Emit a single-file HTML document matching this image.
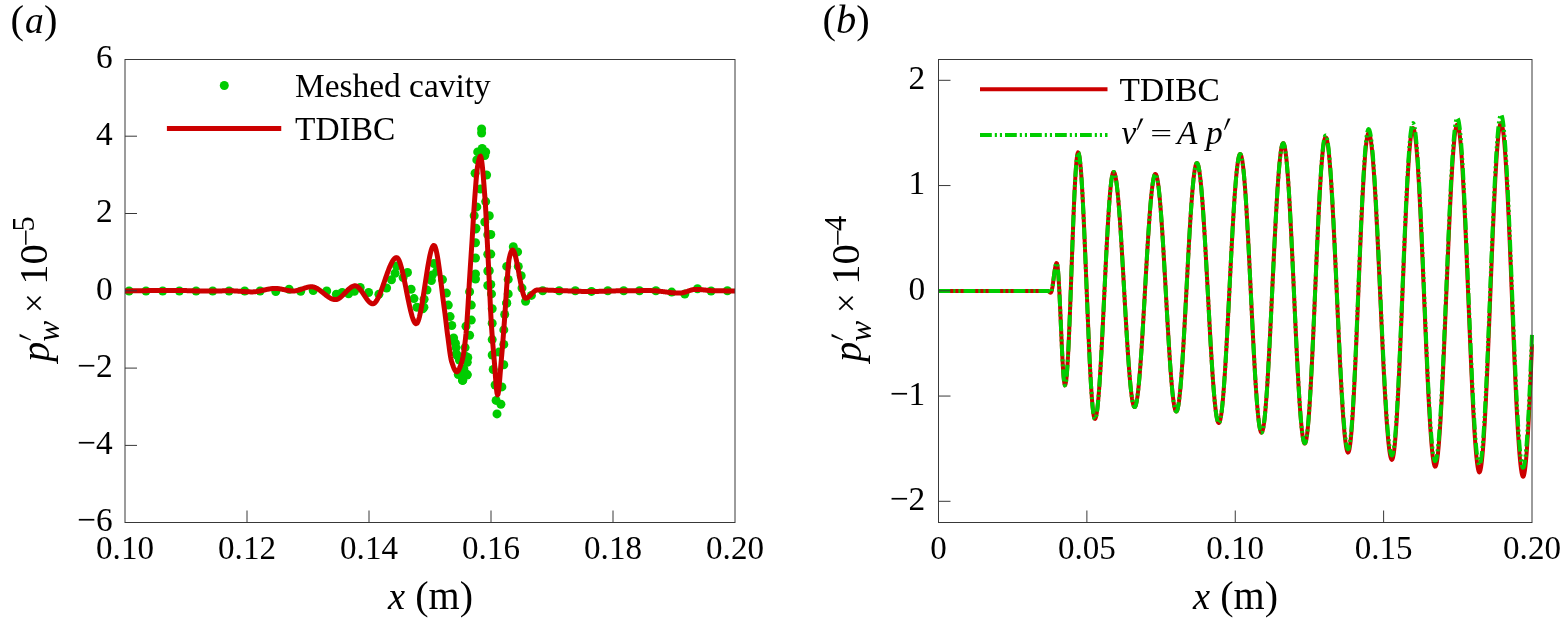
<!DOCTYPE html>
<html><head><meta charset="utf-8"><title>Figure</title>
<style>html,body{margin:0;padding:0;background:#fff;width:1561px;height:621px;overflow:hidden}</style>
</head><body>
<svg width="1561" height="621" viewBox="0 0 1561 621" style="display:block">
<rect width="1561" height="621" fill="#fff"/>
<defs><clipPath id="ca"><rect x="125.0" y="59.5" width="610.0" height="463.0"/></clipPath><clipPath id="cb"><rect x="938.5" y="49.5" width="593.5" height="483.0"/></clipPath></defs>
<g fill="#00cc00" clip-path="url(#ca)"><circle cx="129.1" cy="291.0" r="4.5"/><circle cx="146.0" cy="291.0" r="4.5"/><circle cx="162.7" cy="291.0" r="4.5"/><circle cx="179.4" cy="291.0" r="4.5"/><circle cx="196.1" cy="291.0" r="4.5"/><circle cx="212.7" cy="291.0" r="4.5"/><circle cx="229.1" cy="291.0" r="4.5"/><circle cx="244.7" cy="291.0" r="4.5"/><circle cx="260.1" cy="291.0" r="4.5"/><circle cx="275.8" cy="291.5" r="4.5"/><circle cx="289.1" cy="289.3" r="4.5"/><circle cx="300.7" cy="291.2" r="4.5"/><circle cx="313.2" cy="290.6" r="4.5"/><circle cx="326.7" cy="291.0" r="4.5"/><circle cx="336.4" cy="294.2" r="4.5"/><circle cx="342.2" cy="292.5" r="4.5"/><circle cx="348.6" cy="293.8" r="4.5"/><circle cx="354.4" cy="291.2" r="4.5"/><circle cx="360.2" cy="287.4" r="4.5"/><circle cx="368.6" cy="292.5" r="4.5"/><circle cx="378.9" cy="294.2" r="4.5"/><circle cx="386.6" cy="288.0" r="4.5"/><circle cx="391.5" cy="279.8" r="4.5"/><circle cx="395.1" cy="273.3" r="4.5"/><circle cx="396.6" cy="266.0" r="4.5"/><circle cx="403.1" cy="277.6" r="4.5"/><circle cx="407.5" cy="272.5" r="4.5"/><circle cx="411.1" cy="289.2" r="4.5"/><circle cx="414.0" cy="298.6" r="4.5"/><circle cx="416.9" cy="307.3" r="4.5"/><circle cx="422.7" cy="308.8" r="4.5"/><circle cx="424.1" cy="299.3" r="4.5"/><circle cx="427.0" cy="290.0" r="4.5"/><circle cx="431.4" cy="280.5" r="4.5"/><circle cx="433.9" cy="263.6" r="4.5"/><circle cx="432.2" cy="275.1" r="4.5"/><circle cx="436.8" cy="271.2" r="4.5"/><circle cx="442.5" cy="279.6" r="4.5"/><circle cx="446.4" cy="293.1" r="4.5"/><circle cx="423.9" cy="307.3" r="4.5"/><circle cx="448.3" cy="305.1" r="4.5"/><circle cx="450.1" cy="316.6" r="4.5"/><circle cx="451.8" cy="325.5" r="4.5"/><circle cx="453.6" cy="337.9" r="4.5"/><circle cx="455.4" cy="343.2" r="4.5"/><circle cx="456.3" cy="353.8" r="4.5"/><circle cx="462.5" cy="380.4" r="4.5"/><circle cx="465.1" cy="373.3" r="4.5"/><circle cx="467.0" cy="375.0" r="4.5"/><circle cx="467.8" cy="357.4" r="4.5"/><circle cx="465.1" cy="347.6" r="4.5"/><circle cx="469.6" cy="335.2" r="4.5"/><circle cx="466.0" cy="326.3" r="4.5"/><circle cx="471.3" cy="320.1" r="4.5"/><circle cx="471.3" cy="305.1" r="4.5"/><circle cx="469.6" cy="291.8" r="4.5"/><circle cx="475.5" cy="279.0" r="4.5"/><circle cx="475.5" cy="273.9" r="4.5"/><circle cx="475.5" cy="258.0" r="4.5"/><circle cx="475.5" cy="242.8" r="4.5"/><circle cx="475.5" cy="229.0" r="4.5"/><circle cx="474.2" cy="215.7" r="4.5"/><circle cx="476.8" cy="206.9" r="4.5"/><circle cx="476.0" cy="228.2" r="4.5"/><circle cx="480.4" cy="189.1" r="4.5"/><circle cx="475.1" cy="173.2" r="4.5"/><circle cx="476.8" cy="159.9" r="4.5"/><circle cx="477.7" cy="151.9" r="4.5"/><circle cx="482.2" cy="148.4" r="4.5"/><circle cx="485.7" cy="151.9" r="4.5"/><circle cx="484.8" cy="155.5" r="4.5"/><circle cx="481.6" cy="129.0" r="4.5"/><circle cx="481.6" cy="133.0" r="4.5"/><circle cx="486.6" cy="175.0" r="4.5"/><circle cx="485.7" cy="201.6" r="4.5"/><circle cx="489.3" cy="215.7" r="4.5"/><circle cx="484.8" cy="222.0" r="4.5"/><circle cx="487.8" cy="234.8" r="4.5"/><circle cx="487.8" cy="254.3" r="4.5"/><circle cx="487.8" cy="271.0" r="4.5"/><circle cx="487.8" cy="285.5" r="4.5"/><circle cx="490.8" cy="234.5" r="4.5"/><circle cx="490.8" cy="254.1" r="4.5"/><circle cx="489.3" cy="270.7" r="4.5"/><circle cx="490.8" cy="284.5" r="4.5"/><circle cx="491.5" cy="293.9" r="4.5"/><circle cx="492.2" cy="308.7" r="4.5"/><circle cx="492.2" cy="323.2" r="4.5"/><circle cx="492.2" cy="339.6" r="4.5"/><circle cx="492.2" cy="355.0" r="4.5"/><circle cx="493.2" cy="369.5" r="4.5"/><circle cx="495.1" cy="385.0" r="4.5"/><circle cx="496.1" cy="400.4" r="4.5"/><circle cx="500.9" cy="404.2" r="4.5"/><circle cx="497.0" cy="413.9" r="4.5"/><circle cx="501.9" cy="386.9" r="4.5"/><circle cx="503.8" cy="364.7" r="4.5"/><circle cx="499.0" cy="352.1" r="4.5"/><circle cx="503.8" cy="344.4" r="4.5"/><circle cx="503.8" cy="329.9" r="4.5"/><circle cx="504.7" cy="314.5" r="4.5"/><circle cx="506.7" cy="302.9" r="4.5"/><circle cx="506.7" cy="303.3" r="4.5"/><circle cx="508.2" cy="293.9" r="4.5"/><circle cx="508.2" cy="279.4" r="4.5"/><circle cx="506.7" cy="266.4" r="4.5"/><circle cx="513.3" cy="246.8" r="4.5"/><circle cx="517.6" cy="251.9" r="4.5"/><circle cx="518.3" cy="266.4" r="4.5"/><circle cx="521.2" cy="275.8" r="4.5"/><circle cx="522.0" cy="288.1" r="4.5"/><circle cx="525.6" cy="301.2" r="4.5"/><circle cx="531.4" cy="295.4" r="4.5"/><circle cx="452.7" cy="339.7" r="4.5"/><circle cx="456.0" cy="347.6" r="4.5"/><circle cx="457.2" cy="355.5" r="4.5"/><circle cx="459.4" cy="360.0" r="4.5"/><circle cx="466.2" cy="356.6" r="4.5"/><circle cx="467.3" cy="362.2" r="4.5"/><circle cx="463.9" cy="369.0" r="4.5"/><circle cx="467.3" cy="374.6" r="4.5"/><circle cx="462.8" cy="380.2" r="4.5"/><circle cx="458.3" cy="374.6" r="4.5"/><circle cx="542.7" cy="290.8" r="4.5"/><circle cx="559.2" cy="290.8" r="4.5"/><circle cx="575.3" cy="290.8" r="4.5"/><circle cx="591.5" cy="291.4" r="4.5"/><circle cx="607.8" cy="290.8" r="4.5"/><circle cx="623.7" cy="290.8" r="4.5"/><circle cx="639.5" cy="290.8" r="4.5"/><circle cx="655.9" cy="290.8" r="4.5"/><circle cx="671.7" cy="292.1" r="4.5"/><circle cx="684.8" cy="294.0" r="4.5"/><circle cx="697.5" cy="288.8" r="4.5"/><circle cx="711.1" cy="291.0" r="4.5"/><circle cx="727.4" cy="290.8" r="4.5"/></g>
<polyline points="125.00,291.00 125.50,290.99 126.00,290.98 126.50,290.97 127.00,290.96 127.50,290.95 128.00,290.94 128.50,290.93 129.00,290.92 129.50,290.91 130.00,290.90 130.50,290.89 131.00,290.88 131.50,290.88 132.00,290.87 132.50,290.86 133.00,290.85 133.50,290.84 134.00,290.83 134.50,290.82 135.00,290.81 135.50,290.80 136.00,290.80 136.50,290.79 137.00,290.78 137.50,290.77 138.00,290.76 138.50,290.75 139.00,290.75 139.50,290.74 140.00,290.73 140.50,290.72 141.00,290.72 141.50,290.71 142.00,290.70 142.50,290.69 143.00,290.69 143.50,290.68 144.00,290.67 144.50,290.67 145.00,290.66 145.50,290.65 146.00,290.65 146.50,290.64 147.00,290.63 147.50,290.63 148.00,290.62 148.50,290.62 149.00,290.61 149.50,290.61 150.00,290.60 150.50,290.59 151.00,290.59 151.50,290.58 152.00,290.58 152.50,290.57 153.00,290.57 153.50,290.56 154.00,290.56 154.50,290.55 155.00,290.55 155.50,290.54 156.00,290.53 156.50,290.53 157.00,290.52 157.50,290.52 158.00,290.51 158.50,290.51 159.00,290.50 159.50,290.50 160.00,290.49 160.50,290.49 161.00,290.48 161.50,290.48 162.00,290.47 162.50,290.47 163.00,290.46 163.50,290.46 164.00,290.45 164.50,290.45 165.00,290.44 165.50,290.44 166.00,290.44 166.50,290.43 167.00,290.43 167.50,290.43 168.00,290.42 168.50,290.42 169.00,290.42 169.50,290.41 170.00,290.41 170.50,290.41 171.00,290.41 171.50,290.41 172.00,290.40 172.50,290.40 173.00,290.40 173.50,290.40 174.00,290.40 174.50,290.40 175.00,290.40 175.50,290.40 176.00,290.40 176.50,290.40 177.00,290.41 177.50,290.41 178.00,290.42 178.50,290.42 179.00,290.43 179.50,290.44 180.00,290.45 180.50,290.46 181.00,290.47 181.50,290.48 182.00,290.49 182.50,290.50 183.00,290.52 183.50,290.53 184.00,290.54 184.50,290.56 185.00,290.57 185.50,290.59 186.00,290.60 186.50,290.62 187.00,290.63 187.50,290.65 188.00,290.67 188.50,290.68 189.00,290.70 189.50,290.72 190.00,290.73 190.50,290.75 191.00,290.77 191.50,290.78 192.00,290.80 192.50,290.82 193.00,290.83 193.50,290.85 194.00,290.87 194.50,290.88 195.00,290.90 195.50,290.91 196.00,290.93 196.50,290.94 197.00,290.96 197.50,290.97 198.00,290.98 198.50,291.00 199.00,291.01 199.50,291.02 200.00,291.03 200.50,291.04 201.00,291.05 201.50,291.06 202.00,291.07 202.50,291.08 203.00,291.08 203.50,291.09 204.00,291.09 204.50,291.10 205.00,291.10 205.50,291.10 206.00,291.10 206.50,291.10 207.00,291.10 207.50,291.10 208.00,291.09 208.50,291.09 209.00,291.09 209.50,291.08 210.00,291.08 210.50,291.07 211.00,291.07 211.50,291.06 212.00,291.05 212.50,291.05 213.00,291.04 213.50,291.03 214.00,291.02 214.50,291.01 215.00,291.01 215.50,291.00 216.00,290.99 216.50,290.98 217.00,290.97 217.50,290.96 218.00,290.95 218.50,290.94 219.00,290.93 219.50,290.92 220.00,290.91 220.50,290.90 221.00,290.89 221.50,290.89 222.00,290.88 222.50,290.87 223.00,290.86 223.50,290.85 224.00,290.85 224.50,290.84 225.00,290.83 225.50,290.83 226.00,290.82 226.50,290.82 227.00,290.81 227.50,290.81 228.00,290.81 228.50,290.80 229.00,290.80 229.50,290.80 230.00,290.80 230.50,290.80 231.00,290.81 231.50,290.81 232.00,290.83 232.50,290.84 233.00,290.86 233.50,290.87 234.00,290.90 234.50,290.92 235.00,290.94 235.50,290.97 236.00,291.00 236.50,291.03 237.00,291.06 237.50,291.10 238.00,291.13 238.50,291.17 239.00,291.20 239.50,291.24 240.00,291.28 240.50,291.31 241.00,291.35 241.50,291.39 242.00,291.42 242.50,291.46 243.00,291.50 243.50,291.53 244.00,291.57 244.50,291.60 245.00,291.64 245.50,291.67 246.00,291.70 246.50,291.73 247.00,291.76 247.50,291.78 248.00,291.80 248.50,291.83 249.00,291.84 249.50,291.86 250.00,291.87 250.50,291.89 251.00,291.89 251.50,291.90 252.00,291.90 252.50,291.90 253.00,291.88 253.50,291.86 254.00,291.83 254.50,291.79 255.00,291.74 255.50,291.69 256.00,291.62 256.50,291.56 257.00,291.48 257.50,291.40 258.00,291.32 258.50,291.23 259.00,291.14 259.50,291.04 260.00,290.94 260.50,290.83 261.00,290.73 261.50,290.62 262.00,290.51 262.50,290.40 263.00,290.29 263.50,290.17 264.00,290.06 264.50,289.95 265.00,289.83 265.50,289.72 266.00,289.61 266.50,289.51 267.00,289.40 267.50,289.30 268.00,289.20 268.50,289.11 269.00,289.02 269.50,288.93 270.00,288.85 270.50,288.77 271.00,288.70 271.50,288.64 272.00,288.58 272.50,288.53 273.00,288.49 273.50,288.45 274.00,288.43 274.50,288.41 275.00,288.40 275.50,288.40 276.00,288.41 276.50,288.44 277.00,288.47 277.50,288.52 278.00,288.57 278.50,288.63 279.00,288.70 279.50,288.77 280.00,288.86 280.50,288.94 281.00,289.04 281.50,289.13 282.00,289.23 282.50,289.34 283.00,289.44 283.50,289.55 284.00,289.66 284.50,289.76 285.00,289.87 285.50,289.98 286.00,290.08 286.50,290.19 287.00,290.29 287.50,290.38 288.00,290.47 288.50,290.56 289.00,290.64 289.50,290.72 290.00,290.78 290.50,290.84 291.00,290.89 291.50,290.93 292.00,290.97 292.50,290.99 293.00,291.00 293.50,291.00 294.00,290.98 294.50,290.94 295.00,290.89 295.50,290.82 296.00,290.73 296.50,290.64 297.00,290.53 297.50,290.41 298.00,290.28 298.50,290.15 299.00,290.00 299.50,289.85 300.00,289.69 300.50,289.52 301.00,289.36 301.50,289.19 302.00,289.01 302.50,288.84 303.00,288.67 303.50,288.50 304.00,288.33 304.50,288.16 305.00,288.00 305.50,287.84 306.00,287.69 306.50,287.55 307.00,287.41 307.50,287.29 308.00,287.17 308.50,287.07 309.00,286.98 309.50,286.90 310.00,286.84 310.50,286.79 311.00,286.76 311.50,286.75 312.00,286.76 312.50,286.80 313.00,286.88 313.50,286.98 314.00,287.12 314.50,287.28 315.00,287.46 315.50,287.67 316.00,287.91 316.50,288.16 317.00,288.43 317.50,288.73 318.00,289.04 318.50,289.36 319.00,289.70 319.50,290.06 320.00,290.42 320.50,290.80 321.00,291.18 321.50,291.57 322.00,291.97 322.50,292.37 323.00,292.77 323.50,293.18 324.00,293.58 324.50,293.98 325.00,294.38 325.50,294.78 326.00,295.17 326.50,295.55 327.00,295.93 327.50,296.29 328.00,296.65 328.50,296.99 329.00,297.31 329.50,297.62 330.00,297.92 330.50,298.19 331.00,298.44 331.50,298.68 332.00,298.89 332.50,299.07 333.00,299.23 333.50,299.37 334.00,299.47 334.50,299.55 335.00,299.59 335.50,299.60 336.00,299.56 336.50,299.48 337.00,299.34 337.50,299.16 338.00,298.94 338.50,298.68 339.00,298.39 339.50,298.06 340.00,297.69 340.50,297.30 341.00,296.89 341.50,296.45 342.00,295.99 342.50,295.51 343.00,295.02 343.50,294.52 344.00,294.01 344.50,293.49 345.00,292.96 345.50,292.44 346.00,291.91 346.50,291.39 347.00,290.88 347.50,290.38 348.00,289.89 348.50,289.41 349.00,288.95 349.50,288.51 350.00,288.10 350.50,287.71 351.00,287.34 351.50,287.01 352.00,286.72 352.50,286.46 353.00,286.24 353.50,286.06 354.00,285.92 354.50,285.84 355.00,285.80 355.50,285.83 356.00,285.93 356.50,286.12 357.00,286.38 357.50,286.70 358.00,287.09 358.50,287.54 359.00,288.04 359.50,288.58 360.00,289.17 360.50,289.80 361.00,290.47 361.50,291.16 362.00,291.87 362.50,292.61 363.00,293.36 363.50,294.11 364.00,294.88 364.50,295.64 365.00,296.39 365.50,297.14 366.00,297.87 366.50,298.58 367.00,299.27 367.50,299.92 368.00,300.55 368.50,301.13 369.00,301.67 369.50,302.16 370.00,302.59 370.50,302.97 371.00,303.28 371.50,303.52 372.00,303.69 372.50,303.78 373.00,303.79 373.50,303.68 374.00,303.46 374.50,303.13 375.00,302.69 375.50,302.15 376.00,301.52 376.50,300.80 377.00,299.99 377.50,299.11 378.00,298.15 378.50,297.12 379.00,296.03 379.50,294.88 380.00,293.67 380.50,292.42 381.00,291.13 381.50,289.79 382.00,288.43 382.50,287.03 383.00,285.62 383.50,284.18 384.00,282.74 384.50,281.28 385.00,279.83 385.50,278.37 386.00,276.93 386.50,275.50 387.00,274.09 387.50,272.70 388.00,271.34 388.50,270.01 389.00,268.72 389.50,267.48 390.00,266.29 390.50,265.15 391.00,264.07 391.50,263.06 392.00,262.11 392.50,261.24 393.00,260.45 393.50,259.75 394.00,259.13 394.50,258.62 395.00,258.20 395.50,257.89 396.00,257.69 396.50,257.60 397.00,257.68 397.50,258.01 398.00,258.56 398.50,259.34 399.00,260.33 399.50,261.51 400.00,262.88 400.50,264.41 401.00,266.10 401.50,267.93 402.00,269.89 402.50,271.96 403.00,274.14 403.50,276.41 404.00,278.75 404.50,281.16 405.00,283.62 405.50,286.11 406.00,288.63 406.50,291.16 407.00,293.68 407.50,296.19 408.00,298.67 408.50,301.11 409.00,303.49 409.50,305.81 410.00,308.04 410.50,310.18 411.00,312.21 411.50,314.12 412.00,315.90 412.50,317.52 413.00,318.99 413.50,320.28 414.00,321.39 414.50,322.29 415.00,322.99 415.50,323.45 416.00,323.68 416.50,323.63 417.00,323.23 417.50,322.49 418.00,321.44 418.50,320.08 419.00,318.44 419.50,316.55 420.00,314.42 420.50,312.08 421.00,309.55 421.50,306.84 422.00,303.99 422.50,301.00 423.00,297.91 423.50,294.73 424.00,291.48 424.50,288.19 425.00,284.88 425.50,281.57 426.00,278.27 426.50,275.01 427.00,271.82 427.50,268.71 428.00,265.70 428.50,262.82 429.00,260.08 429.50,257.51 430.00,255.13 430.50,252.96 431.00,251.02 431.50,249.33 432.00,247.91 432.50,246.79 433.00,245.99 433.50,245.52 434.00,245.41 434.50,245.77 435.00,246.61 435.50,247.91 436.00,249.63 436.50,251.73 437.00,254.18 437.50,256.94 438.00,260.00 438.50,263.29 439.00,266.81 439.50,270.51 440.00,274.35 440.50,278.31 441.00,282.34 441.50,286.43 442.00,290.52 442.50,294.60 443.00,298.62 443.50,302.54 444.00,306.35 444.50,310.00 445.00,313.75 445.50,317.79 446.00,321.99 446.50,326.23 447.00,330.38 447.50,334.31 448.00,338.03 448.50,341.87 449.00,345.75 449.50,349.55 450.00,353.13 450.50,356.35 451.00,359.07 451.50,361.17 452.00,362.76 452.50,364.28 453.00,365.74 453.50,367.09 454.00,368.33 454.50,369.41 455.00,370.33 455.50,371.04 456.00,371.53 456.50,371.78 457.00,371.75 457.50,371.47 458.00,370.95 458.50,370.23 459.00,369.31 459.50,368.23 460.00,367.01 460.50,365.67 461.00,364.24 461.50,362.74 462.00,361.18 462.50,359.24 463.00,356.79 463.50,353.88 464.00,350.56 464.50,346.86 465.00,342.83 465.50,338.51 466.00,333.83 466.50,327.87 467.00,320.89 467.50,313.48 468.00,305.72 468.50,297.19 469.00,288.42 469.50,280.00 470.00,272.09 470.50,264.41 471.00,256.84 471.50,249.26 472.00,241.56 472.50,233.53 473.00,225.11 473.50,216.68 474.00,208.63 474.50,201.33 475.00,194.71 475.50,188.09 476.00,181.71 476.50,175.86 477.00,170.79 477.50,166.78 478.00,163.99 478.50,161.53 479.00,159.34 479.50,157.60 480.00,156.50 480.50,156.23 481.00,157.28 481.50,159.69 482.00,163.27 482.50,167.83 483.00,173.17 483.50,179.12 484.00,185.48 484.50,192.07 485.00,198.69 485.50,206.03 486.00,215.29 486.50,225.59 487.00,236.01 487.50,245.88 488.00,255.76 488.50,265.77 489.00,275.91 489.50,286.39 490.00,297.62 490.50,308.63 491.00,318.32 491.50,326.26 492.00,333.42 492.50,340.00 493.00,346.13 493.50,351.99 494.00,357.71 494.50,363.63 495.00,370.27 495.50,377.13 496.00,383.62 496.50,389.14 497.00,393.12 497.50,394.94 498.00,394.28 498.50,391.58 499.00,387.32 499.50,381.92 500.00,375.84 500.50,369.51 501.00,363.39 501.50,357.81 502.00,352.10 502.50,346.10 503.00,339.85 503.50,333.38 504.00,326.75 504.50,320.00 505.00,312.83 505.50,305.14 506.00,297.30 506.50,289.67 507.00,282.59 507.50,276.10 508.00,269.48 508.50,263.61 509.00,259.51 509.50,257.24 510.00,255.24 510.50,253.48 511.00,252.03 511.50,250.94 512.00,250.24 512.50,250.00 513.00,250.21 513.50,250.80 514.00,251.75 514.50,253.03 515.00,254.61 515.50,256.44 516.00,258.50 516.50,260.76 517.00,263.18 517.50,265.74 518.00,268.39 518.50,271.12 519.00,273.87 519.50,276.63 520.00,279.37 520.50,282.04 521.00,284.62 521.50,287.07 522.00,289.36 522.50,291.47 523.00,293.35 523.50,294.97 524.00,296.31 524.50,297.34 525.00,298.01 525.50,298.29 526.00,298.27 526.50,298.16 527.00,297.98 527.50,297.73 528.00,297.41 528.50,297.05 529.00,296.63 529.50,296.18 530.00,295.70 530.50,295.20 531.00,294.68 531.50,294.15 532.00,293.62 532.50,293.10 533.00,292.60 533.50,292.11 534.00,291.65 534.50,291.23 535.00,290.86 535.50,290.53 536.00,290.27 536.50,290.07 537.00,289.94 537.50,289.90 538.00,289.90 538.50,289.90 539.00,289.91 539.50,289.91 540.00,289.92 540.50,289.92 541.00,289.93 541.50,289.94 542.00,289.95 542.50,289.96 543.00,289.97 543.50,289.99 544.00,290.00 544.50,290.02 545.00,290.03 545.50,290.05 546.00,290.06 546.50,290.08 547.00,290.10 547.50,290.12 548.00,290.14 548.50,290.15 549.00,290.17 549.50,290.19 550.00,290.21 550.50,290.23 551.00,290.25 551.50,290.28 552.00,290.30 552.50,290.32 553.00,290.34 553.50,290.36 554.00,290.38 554.50,290.40 555.00,290.42 555.50,290.44 556.00,290.46 556.50,290.48 557.00,290.50 557.50,290.52 558.00,290.53 558.50,290.55 559.00,290.57 559.50,290.58 560.00,290.60 560.50,290.62 561.00,290.63 561.50,290.65 562.00,290.66 562.50,290.68 563.00,290.70 563.50,290.72 564.00,290.74 564.50,290.75 565.00,290.77 565.50,290.79 566.00,290.81 566.50,290.83 567.00,290.85 567.50,290.87 568.00,290.89 568.50,290.91 569.00,290.93 569.50,290.95 570.00,290.97 570.50,290.99 571.00,291.01 571.50,291.03 572.00,291.05 572.50,291.07 573.00,291.09 573.50,291.11 574.00,291.13 574.50,291.15 575.00,291.16 575.50,291.18 576.00,291.20 576.50,291.22 577.00,291.24 577.50,291.25 578.00,291.27 578.50,291.29 579.00,291.30 579.50,291.32 580.00,291.33 580.50,291.35 581.00,291.36 581.50,291.38 582.00,291.39 582.50,291.40 583.00,291.41 583.50,291.43 584.00,291.44 584.50,291.45 585.00,291.45 585.50,291.46 586.00,291.47 586.50,291.48 587.00,291.48 587.50,291.49 588.00,291.49 588.50,291.50 589.00,291.50 589.50,291.50 590.00,291.50 590.50,291.50 591.00,291.50 591.50,291.50 592.00,291.49 592.50,291.49 593.00,291.48 593.50,291.48 594.00,291.47 594.50,291.46 595.00,291.46 595.50,291.45 596.00,291.44 596.50,291.43 597.00,291.42 597.50,291.41 598.00,291.39 598.50,291.38 599.00,291.37 599.50,291.36 600.00,291.34 600.50,291.33 601.00,291.31 601.50,291.30 602.00,291.28 602.50,291.27 603.00,291.25 603.50,291.24 604.00,291.22 604.50,291.21 605.00,291.19 605.50,291.17 606.00,291.16 606.50,291.14 607.00,291.12 607.50,291.11 608.00,291.09 608.50,291.08 609.00,291.06 609.50,291.04 610.00,291.03 610.50,291.01 611.00,291.00 611.50,290.98 612.00,290.97 612.50,290.95 613.00,290.94 613.50,290.93 614.00,290.91 614.50,290.90 615.00,290.89 615.50,290.88 616.00,290.87 616.50,290.85 617.00,290.84 617.50,290.84 618.00,290.83 618.50,290.82 619.00,290.81 619.50,290.81 620.00,290.80 620.50,290.79 621.00,290.79 621.50,290.78 622.00,290.78 622.50,290.77 623.00,290.77 623.50,290.76 624.00,290.76 624.50,290.75 625.00,290.75 625.50,290.74 626.00,290.74 626.50,290.73 627.00,290.73 627.50,290.72 628.00,290.72 628.50,290.72 629.00,290.71 629.50,290.71 630.00,290.70 630.50,290.70 631.00,290.69 631.50,290.69 632.00,290.68 632.50,290.68 633.00,290.68 633.50,290.67 634.00,290.67 634.50,290.66 635.00,290.66 635.50,290.66 636.00,290.65 636.50,290.65 637.00,290.65 637.50,290.64 638.00,290.64 638.50,290.64 639.00,290.63 639.50,290.63 640.00,290.63 640.50,290.63 641.00,290.62 641.50,290.62 642.00,290.62 642.50,290.62 643.00,290.61 643.50,290.61 644.00,290.61 644.50,290.61 645.00,290.61 645.50,290.61 646.00,290.60 646.50,290.60 647.00,290.60 647.50,290.60 648.00,290.60 648.50,290.60 649.00,290.60 649.50,290.60 650.00,290.60 650.50,290.60 651.00,290.61 651.50,290.62 652.00,290.63 652.50,290.65 653.00,290.67 653.50,290.70 654.00,290.72 654.50,290.75 655.00,290.79 655.50,290.82 656.00,290.86 656.50,290.90 657.00,290.95 657.50,291.00 658.00,291.04 658.50,291.09 659.00,291.15 659.50,291.20 660.00,291.26 660.50,291.31 661.00,291.37 661.50,291.43 662.00,291.49 662.50,291.55 663.00,291.61 663.50,291.67 664.00,291.74 664.50,291.80 665.00,291.86 665.50,291.93 666.00,291.99 666.50,292.05 667.00,292.11 667.50,292.17 668.00,292.23 668.50,292.29 669.00,292.35 669.50,292.41 670.00,292.47 670.50,292.52 671.00,292.57 671.50,292.63 672.00,292.68 672.50,292.72 673.00,292.77 673.50,292.81 674.00,292.85 674.50,292.89 675.00,292.93 675.50,292.96 676.00,292.99 676.50,293.01 677.00,293.04 677.50,293.06 678.00,293.07 678.50,293.09 679.00,293.09 679.50,293.10 680.00,293.10 680.50,293.08 681.00,293.04 681.50,292.98 682.00,292.90 682.50,292.81 683.00,292.71 683.50,292.59 684.00,292.45 684.50,292.31 685.00,292.16 685.50,292.00 686.00,291.84 686.50,291.67 687.00,291.50 687.50,291.32 688.00,291.14 688.50,290.97 689.00,290.80 689.50,290.63 690.00,290.46 690.50,290.31 691.00,290.16 691.50,290.02 692.00,289.89 692.50,289.77 693.00,289.67 693.50,289.58 694.00,289.51 694.50,289.45 695.00,289.42 695.50,289.40 696.00,289.40 696.50,289.41 697.00,289.42 697.50,289.44 698.00,289.46 698.50,289.48 699.00,289.51 699.50,289.54 700.00,289.58 700.50,289.61 701.00,289.65 701.50,289.70 702.00,289.74 702.50,289.79 703.00,289.84 703.50,289.89 704.00,289.94 704.50,289.99 705.00,290.05 705.50,290.10 706.00,290.15 706.50,290.20 707.00,290.26 707.50,290.31 708.00,290.36 708.50,290.41 709.00,290.45 709.50,290.50 710.00,290.54 710.50,290.58 711.00,290.62 711.50,290.66 712.00,290.69 712.50,290.72 713.00,290.74 713.50,290.76 714.00,290.78 714.50,290.79 715.00,290.80 715.50,290.80 716.00,290.81 716.50,290.81 717.00,290.82 717.50,290.82 718.00,290.83 718.50,290.83 719.00,290.83 719.50,290.84 720.00,290.84 720.50,290.85 721.00,290.85 721.50,290.85 722.00,290.86 722.50,290.86 723.00,290.86 723.50,290.87 724.00,290.87 724.50,290.87 725.00,290.87 725.50,290.88 726.00,290.88 726.50,290.88 727.00,290.88 727.50,290.88 728.00,290.89 728.50,290.89 729.00,290.89 729.50,290.89 730.00,290.89 730.50,290.89 731.00,290.90 731.50,290.90 732.00,290.90 732.50,290.90 733.00,290.90 733.50,290.90 734.00,290.90 734.50,290.90 735.00,290.90" fill="none" stroke="#cc0000" stroke-width="5" stroke-linejoin="round" clip-path="url(#ca)"/>
<polyline points="938.50,291.00 939.00,291.00 939.50,291.00 940.00,291.00 940.50,291.00 941.00,291.00 941.50,291.00 942.00,291.00 942.50,291.00 943.00,291.00 943.50,291.00 944.00,291.00 944.50,291.00 945.00,291.00 945.50,291.00 946.00,291.00 946.50,291.00 947.00,291.00 947.50,291.00 948.00,291.00 948.50,291.00 949.00,291.00 949.50,291.00 950.00,291.00 950.50,291.00 951.00,291.00 951.50,291.00 952.00,291.00 952.50,291.00 953.00,291.00 953.50,291.00 954.00,291.00 954.50,291.00 955.00,291.00 955.50,291.00 956.00,291.00 956.50,291.00 957.00,291.00 957.50,291.00 958.00,291.00 958.50,291.00 959.00,291.00 959.50,291.00 960.00,291.00 960.50,291.00 961.00,291.00 961.50,291.00 962.00,291.00 962.50,291.00 963.00,291.00 963.50,291.00 964.00,291.00 964.50,291.00 965.00,291.00 965.50,291.00 966.00,291.00 966.50,291.00 967.00,291.00 967.50,291.00 968.00,291.00 968.50,291.00 969.00,291.00 969.50,291.00 970.00,291.00 970.50,291.00 971.00,291.00 971.50,291.00 972.00,291.00 972.50,291.00 973.00,291.00 973.50,291.00 974.00,291.00 974.50,291.00 975.00,291.00 975.50,291.00 976.00,291.00 976.50,291.00 977.00,291.00 977.50,291.00 978.00,291.00 978.50,291.00 979.00,291.00 979.50,291.00 980.00,291.00 980.50,291.00 981.00,291.00 981.50,291.00 982.00,291.00 982.50,291.00 983.00,291.00 983.50,291.00 984.00,291.00 984.50,291.00 985.00,291.00 985.50,291.00 986.00,291.00 986.50,291.00 987.00,291.00 987.50,291.00 988.00,291.00 988.50,291.00 989.00,291.00 989.50,291.00 990.00,291.00 990.50,291.00 991.00,291.00 991.50,291.00 992.00,291.00 992.50,291.00 993.00,291.00 993.50,291.00 994.00,291.00 994.50,291.00 995.00,291.00 995.50,291.00 996.00,291.00 996.50,291.00 997.00,291.00 997.50,291.00 998.00,291.00 998.50,291.00 999.00,291.00 999.50,291.00 1000.00,291.00 1000.50,291.00 1001.00,291.00 1001.50,291.00 1002.00,291.00 1002.50,291.00 1003.00,291.00 1003.50,291.00 1004.00,291.00 1004.50,291.00 1005.00,291.00 1005.50,291.00 1006.00,291.00 1006.50,291.00 1007.00,291.00 1007.50,291.00 1008.00,291.00 1008.50,291.00 1009.00,291.00 1009.50,291.00 1010.00,291.00 1010.50,291.00 1011.00,291.00 1011.50,291.00 1012.00,291.00 1012.50,291.00 1013.00,291.00 1013.50,291.00 1014.00,291.00 1014.50,291.00 1015.00,291.00 1015.50,291.00 1016.00,291.00 1016.50,291.00 1017.00,291.00 1017.50,291.00 1018.00,291.00 1018.50,291.00 1019.00,291.00 1019.50,291.00 1020.00,291.00 1020.50,291.00 1021.00,291.00 1021.50,291.00 1022.00,291.00 1022.50,291.00 1023.00,291.00 1023.50,291.00 1024.00,291.00 1024.50,291.00 1025.00,291.00 1025.50,291.00 1026.00,291.00 1026.50,291.00 1027.00,291.00 1027.50,291.00 1028.00,291.00 1028.50,291.00 1029.00,291.00 1029.50,291.00 1030.00,291.00 1030.50,291.00 1031.00,291.00 1031.50,291.00 1032.00,291.00 1032.50,291.00 1033.00,291.00 1033.50,291.00 1034.00,291.00 1034.50,291.00 1035.00,291.00 1035.50,291.00 1036.00,291.00 1036.50,291.00 1037.00,291.00 1037.50,291.00 1038.00,291.00 1038.50,291.00 1039.00,291.00 1039.50,291.00 1040.00,291.00 1040.50,291.00 1041.00,291.00 1041.50,291.00 1042.00,291.00 1042.50,291.00 1043.00,291.00 1043.50,291.00 1044.00,291.00 1044.50,291.00 1045.00,291.00 1045.50,291.00 1046.00,291.00 1046.50,291.00 1047.00,291.00 1047.50,291.00 1048.00,291.00 1048.50,291.14 1049.00,291.51 1049.50,292.00 1050.00,292.43 1050.50,292.68 1051.00,292.52 1051.50,291.42 1052.00,289.39 1052.50,286.58 1053.00,283.17 1053.50,279.40 1054.00,275.53 1054.50,271.81 1055.00,268.50 1055.50,265.84 1056.00,263.99 1056.50,263.08 1057.00,263.39 1057.50,265.78 1058.00,270.25 1058.50,276.65 1059.00,284.75 1059.50,294.25 1060.00,304.81 1060.50,316.07 1061.00,327.62 1061.50,339.04 1062.00,349.93 1062.50,359.91 1063.00,368.60 1063.50,375.71 1064.00,380.97 1064.50,384.21 1065.00,385.30 1065.50,384.46 1066.00,381.97 1066.50,377.85 1067.00,372.16 1067.50,364.99 1068.00,356.44 1068.50,346.63 1069.00,335.71 1069.50,323.82 1070.00,311.15 1070.50,297.86 1071.00,284.17 1071.50,270.25 1072.00,256.31 1072.50,242.55 1073.00,229.17 1073.50,216.36 1074.00,204.30 1074.50,193.17 1075.00,183.13 1075.50,174.31 1076.00,166.86 1076.50,160.87 1077.00,156.43 1077.50,153.60 1078.00,152.43 1078.50,152.77 1079.00,154.28 1079.50,156.94 1080.00,160.73 1080.50,165.60 1081.00,171.53 1081.50,178.45 1082.00,186.31 1082.50,195.03 1083.00,204.55 1083.50,214.78 1084.00,225.63 1084.50,237.00 1085.00,248.80 1085.50,260.92 1086.00,273.25 1086.50,285.70 1087.00,298.15 1087.50,310.48 1088.00,322.60 1088.50,334.40 1089.00,345.77 1089.50,356.62 1090.00,366.85 1090.50,376.37 1091.00,385.09 1091.50,392.95 1092.00,399.87 1092.50,405.80 1093.00,410.67 1093.50,414.46 1094.00,417.12 1094.50,418.63 1095.00,418.98 1095.50,418.37 1096.00,416.90 1096.50,414.56 1097.00,411.39 1097.50,407.40 1098.00,402.62 1098.50,397.08 1099.00,390.83 1099.50,383.91 1100.00,376.36 1100.50,368.24 1101.00,359.61 1101.50,350.52 1102.00,341.05 1102.50,331.25 1103.00,321.21 1103.50,310.98 1104.00,300.64 1104.50,290.26 1105.00,279.92 1105.50,269.69 1106.00,259.65 1106.50,249.85 1107.00,240.38 1107.50,231.29 1108.00,222.66 1108.50,214.54 1109.00,206.99 1109.50,200.07 1110.00,193.82 1110.50,188.28 1111.00,183.50 1111.50,179.51 1112.00,176.34 1112.50,174.00 1113.00,172.53 1113.50,171.92 1114.00,172.11 1114.50,172.96 1115.00,174.47 1115.50,176.62 1116.00,179.40 1116.50,182.79 1117.00,186.79 1117.50,191.35 1118.00,196.47 1118.50,202.11 1119.00,208.23 1119.50,214.81 1120.00,221.81 1120.50,229.18 1121.00,236.90 1121.50,244.90 1122.00,253.16 1122.50,261.62 1123.00,270.24 1123.50,278.96 1124.00,287.74 1124.50,296.53 1125.00,305.29 1125.50,313.95 1126.00,322.48 1126.50,330.82 1127.00,338.93 1127.50,346.77 1128.00,354.29 1128.50,361.44 1129.00,368.19 1129.50,374.50 1130.00,380.34 1130.50,385.66 1131.00,390.45 1131.50,394.68 1132.00,398.32 1132.50,401.34 1133.00,403.75 1133.50,405.51 1134.00,406.63 1134.50,407.09 1135.00,406.89 1135.50,406.02 1136.00,404.50 1136.50,402.33 1137.00,399.52 1137.50,396.09 1138.00,392.06 1138.50,387.45 1139.00,382.29 1139.50,376.60 1140.00,370.42 1140.50,363.79 1141.00,356.74 1141.50,349.31 1142.00,341.54 1142.50,333.49 1143.00,325.19 1143.50,316.69 1144.00,308.04 1144.50,299.30 1145.00,290.50 1145.50,281.70 1146.00,272.96 1146.50,264.31 1147.00,255.81 1147.50,247.51 1148.00,239.46 1148.50,231.69 1149.00,224.26 1149.50,217.21 1150.00,210.58 1150.50,204.40 1151.00,198.71 1151.50,193.55 1152.00,188.94 1152.50,184.91 1153.00,181.48 1153.50,178.67 1154.00,176.50 1154.50,174.98 1155.00,174.11 1155.50,173.91 1156.00,174.38 1156.50,175.52 1157.00,177.32 1157.50,179.77 1158.00,182.86 1158.50,186.57 1159.00,190.88 1159.50,195.77 1160.00,201.20 1160.50,207.15 1161.00,213.58 1161.50,220.46 1162.00,227.75 1162.50,235.40 1163.00,243.38 1163.50,251.63 1164.00,260.12 1164.50,268.80 1165.00,277.61 1165.50,286.50 1166.00,295.43 1166.50,304.34 1167.00,313.19 1167.50,321.93 1168.00,330.49 1168.50,338.85 1169.00,346.95 1169.50,354.73 1170.00,362.17 1170.50,369.22 1171.00,375.84 1171.50,381.98 1172.00,387.63 1172.50,392.73 1173.00,397.28 1173.50,401.23 1174.00,404.57 1174.50,407.28 1175.00,409.34 1175.50,410.74 1176.00,411.48 1176.50,411.54 1177.00,410.89 1177.50,409.52 1178.00,407.45 1178.50,404.67 1179.00,401.21 1179.50,397.09 1180.00,392.33 1180.50,386.96 1181.00,381.01 1181.50,374.52 1182.00,367.52 1182.50,360.05 1183.00,352.17 1183.50,343.90 1184.00,335.31 1184.50,326.43 1185.00,317.33 1185.50,308.05 1186.00,298.66 1186.50,289.20 1187.00,279.72 1187.50,270.29 1188.00,260.96 1188.50,251.78 1189.00,242.81 1189.50,234.10 1190.00,225.70 1190.50,217.65 1191.00,210.01 1191.50,202.82 1192.00,196.12 1192.50,189.95 1193.00,184.34 1193.50,179.34 1194.00,174.96 1194.50,171.23 1195.00,168.18 1195.50,165.82 1196.00,164.17 1196.50,163.23 1197.00,163.01 1197.50,163.48 1198.00,164.62 1198.50,166.41 1199.00,168.86 1199.50,171.94 1200.00,175.65 1200.50,179.96 1201.00,184.85 1201.50,190.30 1202.00,196.28 1202.50,202.75 1203.00,209.69 1203.50,217.06 1204.00,224.82 1204.50,232.93 1205.00,241.35 1205.50,250.03 1206.00,258.94 1206.50,268.02 1207.00,277.23 1207.50,286.52 1208.00,295.85 1208.50,305.16 1209.00,314.41 1209.50,323.55 1210.00,332.53 1210.50,341.31 1211.00,349.84 1211.50,358.07 1212.00,365.98 1212.50,373.51 1213.00,380.62 1213.50,387.29 1214.00,393.47 1214.50,399.13 1215.00,404.25 1215.50,408.80 1216.00,412.75 1216.50,416.09 1217.00,418.79 1217.50,420.85 1218.00,422.24 1218.50,422.98 1219.00,423.04 1219.50,422.39 1220.00,421.02 1220.50,418.93 1221.00,416.14 1221.50,412.67 1222.00,408.52 1222.50,403.73 1223.00,398.32 1223.50,392.32 1224.00,385.76 1224.50,378.68 1225.00,371.11 1225.50,363.10 1226.00,354.68 1226.50,345.91 1227.00,336.83 1227.50,327.49 1228.00,317.94 1228.50,308.23 1229.00,298.42 1229.50,288.55 1230.00,278.68 1230.50,268.87 1231.00,259.16 1231.50,249.61 1232.00,240.27 1232.50,231.19 1233.00,222.42 1233.50,214.00 1234.00,205.99 1234.50,198.42 1235.00,191.34 1235.50,184.78 1236.00,178.78 1236.50,173.37 1237.00,168.58 1237.50,164.43 1238.00,160.96 1238.50,158.17 1239.00,156.08 1239.50,154.71 1240.00,154.06 1240.50,154.14 1241.00,154.97 1241.50,156.55 1242.00,158.88 1242.50,161.94 1243.00,165.71 1243.50,170.18 1244.00,175.31 1244.50,181.09 1245.00,187.48 1245.50,194.44 1246.00,201.94 1246.50,209.93 1247.00,218.38 1247.50,227.24 1248.00,236.45 1248.50,245.98 1249.00,255.76 1249.50,265.75 1250.00,275.88 1250.50,286.11 1251.00,296.38 1251.50,306.63 1252.00,316.81 1252.50,326.87 1253.00,336.74 1253.50,346.37 1254.00,355.72 1254.50,364.72 1255.00,373.34 1255.50,381.52 1256.00,389.23 1256.50,396.41 1257.00,403.03 1257.50,409.05 1258.00,414.45 1258.50,419.18 1259.00,423.24 1259.50,426.58 1260.00,429.20 1260.50,431.09 1261.00,432.22 1261.50,432.60 1262.00,432.22 1262.50,431.09 1263.00,429.20 1263.50,426.57 1264.00,423.22 1264.50,419.16 1265.00,414.41 1265.50,409.00 1266.00,402.95 1266.50,396.30 1267.00,389.09 1267.50,381.34 1268.00,373.10 1268.50,364.42 1269.00,355.33 1269.50,345.89 1270.00,336.15 1270.50,326.16 1271.00,315.96 1271.50,305.62 1272.00,295.18 1272.50,284.71 1273.00,274.25 1273.50,263.86 1274.00,253.60 1274.50,243.52 1275.00,233.67 1275.50,224.10 1276.00,214.87 1276.50,206.02 1277.00,197.60 1277.50,189.65 1278.00,182.22 1278.50,175.34 1279.00,169.04 1279.50,163.38 1280.00,158.36 1280.50,154.02 1281.00,150.38 1281.50,147.46 1282.00,145.28 1282.50,143.84 1283.00,143.16 1283.50,143.24 1284.00,144.12 1284.50,145.78 1285.00,148.22 1285.50,151.43 1286.00,155.39 1286.50,160.08 1287.00,165.47 1287.50,171.54 1288.00,178.25 1288.50,185.57 1289.00,193.46 1289.50,201.88 1290.00,210.79 1290.50,220.13 1291.00,229.85 1291.50,239.91 1292.00,250.26 1292.50,260.83 1293.00,271.57 1293.50,282.43 1294.00,293.35 1294.50,304.27 1295.00,315.13 1295.50,325.87 1296.00,336.44 1296.50,346.79 1297.00,356.85 1297.50,366.57 1298.00,375.91 1298.50,384.82 1299.00,393.24 1299.50,401.13 1300.00,408.45 1300.50,415.16 1301.00,421.23 1301.50,426.62 1302.00,431.31 1302.50,435.27 1303.00,438.48 1303.50,440.92 1304.00,442.58 1304.50,443.46 1305.00,443.53 1305.50,442.74 1306.00,441.09 1306.50,438.58 1307.00,435.22 1307.50,431.04 1308.00,426.05 1308.50,420.29 1309.00,413.80 1309.50,406.59 1310.00,398.73 1310.50,390.25 1311.00,381.20 1311.50,371.63 1312.00,361.60 1312.50,351.16 1313.00,340.37 1313.50,329.31 1314.00,318.02 1314.50,306.57 1315.00,295.03 1315.50,283.46 1316.00,271.93 1316.50,260.51 1317.00,249.26 1317.50,238.24 1318.00,227.52 1318.50,217.16 1319.00,207.22 1319.50,197.75 1320.00,188.81 1320.50,180.45 1321.00,172.71 1321.50,165.65 1322.00,159.29 1322.50,153.69 1323.00,148.86 1323.50,144.84 1324.00,141.65 1324.50,139.31 1325.00,137.83 1325.50,137.22 1326.00,137.45 1326.50,138.44 1327.00,140.20 1327.50,142.72 1328.00,145.97 1328.50,149.95 1329.00,154.64 1329.50,160.01 1330.00,166.04 1330.50,172.69 1331.00,179.94 1331.50,187.75 1332.00,196.08 1332.50,204.90 1333.00,214.15 1333.50,223.80 1334.00,233.79 1334.50,244.08 1335.00,254.62 1335.50,265.35 1336.00,276.23 1336.50,287.20 1337.00,298.20 1337.50,309.19 1338.00,320.11 1338.50,330.91 1339.00,341.53 1339.50,351.93 1340.00,362.05 1340.50,371.84 1341.00,381.25 1341.50,390.25 1342.00,398.78 1342.50,406.80 1343.00,414.28 1343.50,421.18 1344.00,427.46 1344.50,433.09 1345.00,438.06 1345.50,442.32 1346.00,445.87 1346.50,448.68 1347.00,450.74 1347.50,452.05 1348.00,452.58 1348.50,452.30 1349.00,451.08 1349.50,448.94 1350.00,445.87 1350.50,441.91 1351.00,437.08 1351.50,431.39 1352.00,424.90 1352.50,417.63 1353.00,409.62 1353.50,400.93 1354.00,391.61 1354.50,381.71 1355.00,371.28 1355.50,360.40 1356.00,349.11 1356.50,337.50 1357.00,325.62 1357.50,313.56 1358.00,301.37 1358.50,289.13 1359.00,276.91 1359.50,264.78 1360.00,252.82 1360.50,241.10 1361.00,229.67 1361.50,218.62 1362.00,208.00 1362.50,197.88 1363.00,188.32 1363.50,179.37 1364.00,171.09 1364.50,163.52 1365.00,156.71 1365.50,150.70 1366.00,145.52 1366.50,141.20 1367.00,137.78 1367.50,135.27 1368.00,133.68 1368.50,133.02 1369.00,133.24 1369.50,134.20 1370.00,135.90 1370.50,138.33 1371.00,141.48 1371.50,145.34 1372.00,149.88 1372.50,155.08 1373.00,160.93 1373.50,167.39 1374.00,174.44 1374.50,182.05 1375.00,190.17 1375.50,198.78 1376.00,207.83 1376.50,217.28 1377.00,227.10 1377.50,237.22 1378.00,247.62 1378.50,258.24 1379.00,269.03 1379.50,279.95 1380.00,290.94 1380.50,301.96 1381.00,312.95 1381.50,323.87 1382.00,334.66 1382.50,345.28 1383.00,355.68 1383.50,365.80 1384.00,375.62 1384.50,385.07 1385.00,394.12 1385.50,402.73 1386.00,410.85 1386.50,418.46 1387.00,425.51 1387.50,431.97 1388.00,437.82 1388.50,443.02 1389.00,447.56 1389.50,451.42 1390.00,454.57 1390.50,457.00 1391.00,458.70 1391.50,459.66 1392.00,459.88 1392.50,459.24 1393.00,457.68 1393.50,455.21 1394.00,451.85 1394.50,447.62 1395.00,442.53 1395.50,436.63 1396.00,429.93 1396.50,422.48 1397.00,414.31 1397.50,405.48 1398.00,396.03 1398.50,386.02 1399.00,375.49 1399.50,364.52 1400.00,353.15 1400.50,341.46 1401.00,329.50 1401.50,317.34 1402.00,305.06 1402.50,292.71 1403.00,280.38 1403.50,268.11 1404.00,255.99 1404.50,244.08 1405.00,232.45 1405.50,221.15 1406.00,210.26 1406.50,199.84 1407.00,189.93 1407.50,180.60 1408.00,171.90 1408.50,163.88 1409.00,156.57 1409.50,150.03 1410.00,144.28 1410.50,139.36 1411.00,135.30 1411.50,132.12 1412.00,129.84 1412.50,128.46 1413.00,128.00 1413.50,128.42 1414.00,129.69 1414.50,131.80 1415.00,134.74 1415.50,138.49 1416.00,143.03 1416.50,148.35 1417.00,154.41 1417.50,161.19 1418.00,168.65 1418.50,176.76 1419.00,185.46 1419.50,194.73 1420.00,204.51 1420.50,214.76 1421.00,225.42 1421.50,236.44 1422.00,247.76 1422.50,259.33 1423.00,271.09 1423.50,282.99 1424.00,294.95 1424.50,306.93 1425.00,318.86 1425.50,330.68 1426.00,342.34 1426.50,353.77 1427.00,364.91 1427.50,375.72 1428.00,386.14 1428.50,396.11 1429.00,405.59 1429.50,414.53 1430.00,422.88 1430.50,430.60 1431.00,437.66 1431.50,444.01 1432.00,449.63 1432.50,454.49 1433.00,458.56 1433.50,461.82 1434.00,464.26 1434.50,465.87 1435.00,466.63 1435.50,466.54 1436.00,465.59 1436.50,463.79 1437.00,461.13 1437.50,457.64 1438.00,453.32 1438.50,448.22 1439.00,442.34 1439.50,435.72 1440.00,428.39 1440.50,420.39 1441.00,411.77 1441.50,402.55 1442.00,392.80 1442.50,382.55 1443.00,371.87 1443.50,360.80 1444.00,349.40 1444.50,337.73 1445.00,325.84 1445.50,313.81 1446.00,301.68 1446.50,289.52 1447.00,277.39 1447.50,265.36 1448.00,253.47 1448.50,241.80 1449.00,230.40 1449.50,219.33 1450.00,208.65 1450.50,198.40 1451.00,188.65 1451.50,179.43 1452.00,170.81 1452.50,162.81 1453.00,155.48 1453.50,148.86 1454.00,142.98 1454.50,137.88 1455.00,133.56 1455.50,130.07 1456.00,127.41 1456.50,125.61 1457.00,124.66 1457.50,124.57 1458.00,125.36 1458.50,127.02 1459.00,129.55 1459.50,132.94 1460.00,137.16 1460.50,142.19 1461.00,148.01 1461.50,154.59 1462.00,161.90 1462.50,169.90 1463.00,178.55 1463.50,187.80 1464.00,197.61 1464.50,207.93 1465.00,218.71 1465.50,229.89 1466.00,241.41 1466.50,253.23 1467.00,265.27 1467.50,277.48 1468.00,289.80 1468.50,302.16 1469.00,314.50 1469.50,326.76 1470.00,338.88 1470.50,350.79 1471.00,362.44 1471.50,373.76 1472.00,384.71 1472.50,395.22 1473.00,405.24 1473.50,414.72 1474.00,423.62 1474.50,431.88 1475.00,439.47 1475.50,446.35 1476.00,452.48 1476.50,457.83 1477.00,462.37 1477.50,466.09 1478.00,468.97 1478.50,470.98 1479.00,472.12 1479.50,472.38 1480.00,471.74 1480.50,470.17 1481.00,467.69 1481.50,464.31 1482.00,460.06 1482.50,454.94 1483.00,448.99 1483.50,442.25 1484.00,434.74 1484.50,426.50 1485.00,417.59 1485.50,408.04 1486.00,397.90 1486.50,387.24 1487.00,376.11 1487.50,364.55 1488.00,352.65 1488.50,340.46 1489.00,328.04 1489.50,315.46 1490.00,302.78 1490.50,290.08 1491.00,277.42 1491.50,264.86 1492.00,252.48 1492.50,240.34 1493.00,228.50 1493.50,217.03 1494.00,205.99 1494.50,195.43 1495.00,185.41 1495.50,175.98 1496.00,167.19 1496.50,159.10 1497.00,151.74 1497.50,145.15 1498.00,139.37 1498.50,134.42 1499.00,130.34 1499.50,127.14 1500.00,124.84 1500.50,123.46 1501.00,123.00 1501.50,123.45 1502.00,124.78 1502.50,127.01 1503.00,130.10 1503.50,134.05 1504.00,138.84 1504.50,144.45 1505.00,150.84 1505.50,157.98 1506.00,165.83 1506.50,174.37 1507.00,183.54 1507.50,193.29 1508.00,203.59 1508.50,214.37 1509.00,225.58 1509.50,237.17 1510.00,249.08 1510.50,261.24 1511.00,273.59 1511.50,286.08 1512.00,298.64 1512.50,311.21 1513.00,323.72 1513.50,336.11 1514.00,348.31 1514.50,360.27 1515.00,371.93 1515.50,383.22 1516.00,394.09 1516.50,404.49 1517.00,414.36 1517.50,423.65 1518.00,432.31 1518.50,440.31 1519.00,447.60 1519.50,454.14 1520.00,459.90 1520.50,464.85 1521.00,468.98 1521.50,472.24 1522.00,474.64 1522.50,476.16 1523.00,476.78 1523.50,476.49 1524.00,475.24 1524.50,473.02 1525.00,469.87 1525.50,465.78 1526.00,460.79 1526.50,454.91 1527.00,448.19 1527.50,440.66 1528.00,432.35 1528.50,423.32 1529.00,413.61 1529.50,403.27 1530.00,392.37 1530.50,380.95 1531.00,369.08 1531.50,356.83 1532.00,344.26" fill="none" stroke="#cc0000" stroke-width="4" stroke-linejoin="round"/>
<polyline points="938.50,291.00 939.00,291.00 939.50,291.00 940.00,291.00 940.50,291.00 941.00,291.00 941.50,291.00 942.00,291.00 942.50,291.00 943.00,291.00 943.50,291.00 944.00,291.00 944.50,291.00 945.00,291.00 945.50,291.00 946.00,291.00 946.50,291.00 947.00,291.00 947.50,291.00 948.00,291.00 948.50,291.00 949.00,291.00 949.50,291.00 950.00,291.00 950.50,291.00 951.00,291.00 951.50,291.00 952.00,291.00 952.50,291.00 953.00,291.00 953.50,291.00 954.00,291.00 954.50,291.00 955.00,291.00 955.50,291.00 956.00,291.00 956.50,291.00 957.00,291.00 957.50,291.00 958.00,291.00 958.50,291.00 959.00,291.00 959.50,291.00 960.00,291.00 960.50,291.00 961.00,291.00 961.50,291.00 962.00,291.00 962.50,291.00 963.00,291.00 963.50,291.00 964.00,291.00 964.50,291.00 965.00,291.00 965.50,291.00 966.00,291.00 966.50,291.00 967.00,291.00 967.50,291.00 968.00,291.00 968.50,291.00 969.00,291.00 969.50,291.00 970.00,291.00 970.50,291.00 971.00,291.00 971.50,291.00 972.00,291.00 972.50,291.00 973.00,291.00 973.50,291.00 974.00,291.00 974.50,291.00 975.00,291.00 975.50,291.00 976.00,291.00 976.50,291.00 977.00,291.00 977.50,291.00 978.00,291.00 978.50,291.00 979.00,291.00 979.50,291.00 980.00,291.00 980.50,291.00 981.00,291.00 981.50,291.00 982.00,291.00 982.50,291.00 983.00,291.00 983.50,291.00 984.00,291.00 984.50,291.00 985.00,291.00 985.50,291.00 986.00,291.00 986.50,291.00 987.00,291.00 987.50,291.00 988.00,291.00 988.50,291.00 989.00,291.00 989.50,291.00 990.00,291.00 990.50,291.00 991.00,291.00 991.50,291.00 992.00,291.00 992.50,291.00 993.00,291.00 993.50,291.00 994.00,291.00 994.50,291.00 995.00,291.00 995.50,291.00 996.00,291.00 996.50,291.00 997.00,291.00 997.50,291.00 998.00,291.00 998.50,291.00 999.00,291.00 999.50,291.00 1000.00,291.00 1000.50,291.00 1001.00,291.00 1001.50,291.00 1002.00,291.00 1002.50,291.00 1003.00,291.00 1003.50,291.00 1004.00,291.00 1004.50,291.00 1005.00,291.00 1005.50,291.00 1006.00,291.00 1006.50,291.00 1007.00,291.00 1007.50,291.00 1008.00,291.00 1008.50,291.00 1009.00,291.00 1009.50,291.00 1010.00,291.00 1010.50,291.00 1011.00,291.00 1011.50,291.00 1012.00,291.00 1012.50,291.00 1013.00,291.00 1013.50,291.00 1014.00,291.00 1014.50,291.00 1015.00,291.00 1015.50,291.00 1016.00,291.00 1016.50,291.00 1017.00,291.00 1017.50,291.00 1018.00,291.00 1018.50,291.00 1019.00,291.00 1019.50,291.00 1020.00,291.00 1020.50,291.00 1021.00,291.00 1021.50,291.00 1022.00,291.00 1022.50,291.00 1023.00,291.00 1023.50,291.00 1024.00,291.00 1024.50,291.00 1025.00,291.00 1025.50,291.00 1026.00,291.00 1026.50,291.00 1027.00,291.00 1027.50,291.00 1028.00,291.00 1028.50,291.00 1029.00,291.00 1029.50,291.00 1030.00,291.00 1030.50,291.00 1031.00,291.00 1031.50,291.00 1032.00,291.00 1032.50,291.00 1033.00,291.00 1033.50,291.00 1034.00,291.00 1034.50,291.00 1035.00,291.00 1035.50,291.00 1036.00,291.00 1036.50,291.00 1037.00,291.00 1037.50,291.00 1038.00,291.00 1038.50,291.00 1039.00,291.00 1039.50,291.00 1040.00,291.00 1040.50,291.00 1041.00,291.00 1041.50,291.00 1042.00,291.00 1042.50,291.00 1043.00,291.00 1043.50,291.00 1044.00,291.00 1044.50,291.00 1045.00,291.00 1045.50,291.00 1046.00,291.00 1046.50,291.00 1047.00,291.00 1047.50,291.00 1048.00,291.00 1048.50,291.14 1049.00,291.51 1049.50,292.00 1050.00,292.43 1050.50,292.68 1051.00,292.52 1051.50,291.42 1052.00,289.39 1052.50,286.58 1053.00,283.17 1053.50,279.40 1054.00,275.53 1054.50,271.81 1055.00,268.50 1055.50,265.84 1056.00,263.99 1056.50,263.08 1057.00,263.39 1057.50,265.78 1058.00,270.25 1058.50,276.65 1059.00,284.75 1059.50,294.25 1060.00,304.81 1060.50,316.07 1061.00,327.62 1061.50,339.04 1062.00,349.93 1062.50,359.91 1063.00,368.60 1063.50,375.71 1064.00,380.97 1064.50,384.21 1065.00,385.30 1065.50,384.46 1066.00,381.97 1066.50,377.85 1067.00,372.16 1067.50,364.99 1068.00,356.44 1068.50,346.63 1069.00,335.71 1069.50,323.82 1070.00,311.15 1070.50,297.86 1071.00,284.17 1071.50,270.25 1072.00,256.31 1072.50,242.55 1073.00,229.17 1073.50,216.36 1074.00,204.30 1074.50,193.17 1075.00,183.13 1075.50,174.31 1076.00,166.86 1076.50,160.87 1077.00,156.43 1077.50,153.60 1078.00,152.43 1078.50,152.77 1079.00,154.28 1079.50,156.94 1080.00,160.73 1080.50,165.60 1081.00,171.53 1081.50,178.45 1082.00,186.31 1082.50,195.03 1083.00,204.55 1083.50,214.78 1084.00,225.63 1084.50,237.00 1085.00,248.80 1085.50,260.92 1086.00,273.25 1086.50,285.70 1087.00,298.15 1087.50,310.48 1088.00,322.60 1088.50,334.40 1089.00,345.77 1089.50,356.62 1090.00,366.85 1090.50,376.37 1091.00,385.09 1091.50,392.95 1092.00,399.87 1092.50,405.80 1093.00,410.67 1093.50,414.46 1094.00,417.12 1094.50,418.63 1095.00,418.98 1095.50,418.37 1096.00,416.90 1096.50,414.56 1097.00,411.39 1097.50,407.40 1098.00,402.62 1098.50,397.08 1099.00,390.83 1099.50,383.91 1100.00,376.36 1100.50,368.24 1101.00,359.61 1101.50,350.52 1102.00,341.05 1102.50,331.25 1103.00,321.21 1103.50,310.98 1104.00,300.64 1104.50,290.26 1105.00,279.92 1105.50,269.69 1106.00,259.65 1106.50,249.85 1107.00,240.38 1107.50,231.29 1108.00,222.66 1108.50,214.54 1109.00,206.99 1109.50,200.07 1110.00,193.82 1110.50,188.28 1111.00,183.50 1111.50,179.51 1112.00,176.34 1112.50,174.00 1113.00,172.53 1113.50,171.92 1114.00,172.11 1114.50,172.96 1115.00,174.47 1115.50,176.62 1116.00,179.40 1116.50,182.79 1117.00,186.79 1117.50,191.35 1118.00,196.47 1118.50,202.11 1119.00,208.23 1119.50,214.81 1120.00,221.81 1120.50,229.18 1121.00,236.90 1121.50,244.90 1122.00,253.16 1122.50,261.62 1123.00,270.24 1123.50,278.96 1124.00,287.74 1124.50,296.53 1125.00,305.29 1125.50,313.95 1126.00,322.48 1126.50,330.82 1127.00,338.93 1127.50,346.77 1128.00,354.29 1128.50,361.44 1129.00,368.19 1129.50,374.50 1130.00,380.34 1130.50,385.66 1131.00,390.45 1131.50,394.68 1132.00,398.32 1132.50,401.34 1133.00,403.75 1133.50,405.51 1134.00,406.63 1134.50,407.09 1135.00,406.89 1135.50,406.02 1136.00,404.50 1136.50,402.33 1137.00,399.52 1137.50,396.09 1138.00,392.06 1138.50,387.45 1139.00,382.29 1139.50,376.60 1140.00,370.42 1140.50,363.79 1141.00,356.74 1141.50,349.31 1142.00,341.54 1142.50,333.49 1143.00,325.19 1143.50,316.69 1144.00,308.04 1144.50,299.30 1145.00,290.50 1145.50,281.70 1146.00,272.96 1146.50,264.31 1147.00,255.81 1147.50,247.51 1148.00,239.46 1148.50,231.69 1149.00,224.26 1149.50,217.21 1150.00,210.58 1150.50,204.40 1151.00,198.71 1151.50,193.55 1152.00,188.94 1152.50,184.91 1153.00,181.48 1153.50,178.67 1154.00,176.50 1154.50,174.98 1155.00,174.11 1155.50,173.91 1156.00,174.38 1156.50,175.52 1157.00,177.32 1157.50,179.77 1158.00,182.86 1158.50,186.57 1159.00,190.88 1159.50,195.77 1160.00,201.20 1160.50,207.15 1161.00,213.58 1161.50,220.46 1162.00,227.75 1162.50,235.40 1163.00,243.38 1163.50,251.63 1164.00,260.12 1164.50,268.80 1165.00,277.61 1165.50,286.50 1166.00,295.43 1166.50,304.34 1167.00,313.19 1167.50,321.93 1168.00,330.49 1168.50,338.85 1169.00,346.95 1169.50,354.73 1170.00,362.17 1170.50,369.22 1171.00,375.84 1171.50,381.98 1172.00,387.63 1172.50,392.73 1173.00,397.28 1173.50,401.23 1174.00,404.57 1174.50,407.28 1175.00,409.34 1175.50,410.74 1176.00,411.48 1176.50,411.54 1177.00,410.89 1177.50,409.52 1178.00,407.45 1178.50,404.67 1179.00,401.21 1179.50,397.09 1180.00,392.33 1180.50,386.96 1181.00,381.01 1181.50,374.52 1182.00,367.52 1182.50,360.05 1183.00,352.17 1183.50,343.90 1184.00,335.31 1184.50,326.43 1185.00,317.33 1185.50,308.05 1186.00,298.66 1186.50,289.20 1187.00,279.72 1187.50,270.29 1188.00,260.96 1188.50,251.78 1189.00,242.81 1189.50,234.10 1190.00,225.70 1190.50,217.65 1191.00,210.01 1191.50,202.82 1192.00,196.12 1192.50,189.95 1193.00,184.34 1193.50,179.34 1194.00,174.96 1194.50,171.23 1195.00,168.18 1195.50,165.82 1196.00,164.17 1196.50,163.23 1197.00,163.01 1197.50,163.48 1198.00,164.62 1198.50,166.41 1199.00,168.86 1199.50,171.94 1200.00,175.65 1200.50,179.96 1201.00,184.85 1201.50,190.30 1202.00,196.28 1202.50,202.75 1203.00,209.69 1203.50,217.06 1204.00,224.82 1204.50,232.93 1205.00,241.35 1205.50,250.03 1206.00,258.94 1206.50,268.02 1207.00,277.23 1207.50,286.52 1208.00,295.85 1208.50,305.16 1209.00,314.41 1209.50,323.55 1210.00,332.53 1210.50,341.31 1211.00,349.84 1211.50,358.07 1212.00,365.98 1212.50,373.51 1213.00,380.62 1213.50,387.29 1214.00,393.47 1214.50,399.13 1215.00,404.25 1215.50,408.80 1216.00,412.75 1216.50,416.09 1217.00,418.79 1217.50,420.85 1218.00,422.24 1218.50,422.98 1219.00,423.04 1219.50,422.39 1220.00,421.02 1220.50,418.93 1221.00,416.14 1221.50,412.67 1222.00,408.52 1222.50,403.73 1223.00,398.32 1223.50,392.32 1224.00,385.76 1224.50,378.68 1225.00,371.11 1225.50,363.10 1226.00,354.68 1226.50,345.91 1227.00,336.83 1227.50,327.49 1228.00,317.94 1228.50,308.23 1229.00,298.42 1229.50,288.55 1230.00,278.68 1230.50,268.87 1231.00,259.16 1231.50,249.61 1232.00,240.27 1232.50,231.19 1233.00,222.42 1233.50,214.00 1234.00,205.99 1234.50,198.42 1235.00,191.34 1235.50,184.78 1236.00,178.78 1236.50,173.37 1237.00,168.58 1237.50,164.43 1238.00,160.96 1238.50,158.17 1239.00,156.08 1239.50,154.71 1240.00,154.06 1240.50,154.14 1241.00,154.97 1241.50,156.55 1242.00,158.88 1242.50,161.94 1243.00,165.71 1243.50,170.18 1244.00,175.31 1244.50,181.09 1245.00,187.48 1245.50,194.44 1246.00,201.94 1246.50,209.93 1247.00,218.38 1247.50,227.24 1248.00,236.45 1248.50,245.98 1249.00,255.76 1249.50,265.75 1250.00,275.88 1250.50,286.11 1251.00,296.38 1251.50,306.63 1252.00,316.81 1252.50,326.87 1253.00,336.74 1253.50,346.37 1254.00,355.72 1254.50,364.72 1255.00,373.34 1255.50,381.52 1256.00,389.23 1256.50,396.41 1257.00,403.03 1257.50,409.05 1258.00,414.45 1258.50,419.18 1259.00,423.24 1259.50,426.58 1260.00,429.20 1260.50,431.09 1261.00,432.22 1261.50,432.60 1262.00,432.22 1262.50,431.09 1263.00,429.20 1263.50,426.57 1264.00,423.22 1264.50,419.16 1265.00,414.41 1265.50,409.00 1266.00,402.95 1266.50,396.30 1267.00,389.09 1267.50,381.34 1268.00,373.10 1268.50,364.42 1269.00,355.33 1269.50,345.89 1270.00,336.15 1270.50,326.16 1271.00,315.96 1271.50,305.62 1272.00,295.18 1272.50,284.71 1273.00,274.25 1273.50,263.86 1274.00,253.60 1274.50,243.52 1275.00,233.67 1275.50,224.10 1276.00,214.87 1276.50,206.02 1277.00,197.60 1277.50,189.65 1278.00,182.22 1278.50,175.34 1279.00,169.04 1279.50,163.38 1280.00,158.36 1280.50,154.02 1281.00,150.38 1281.50,147.46 1282.00,145.28 1282.50,143.84 1283.00,143.16 1283.50,143.24 1284.00,144.12 1284.50,145.78 1285.00,148.22 1285.50,151.43 1286.00,155.39 1286.50,160.08 1287.00,165.47 1287.50,171.54 1288.00,178.25 1288.50,185.57 1289.00,193.46 1289.50,201.88 1290.00,210.79 1290.50,220.13 1291.00,229.85 1291.50,239.91 1292.00,250.26 1292.50,260.83 1293.00,271.57 1293.50,282.43 1294.00,293.35 1294.50,304.27 1295.00,315.13 1295.50,325.87 1296.00,336.44 1296.50,346.79 1297.00,356.85 1297.50,366.57 1298.00,375.91 1298.50,384.82 1299.00,393.24 1299.50,401.13 1300.00,408.45 1300.50,415.13 1301.00,421.16 1301.50,426.52 1302.00,431.17 1302.50,435.10 1303.00,438.27 1303.50,440.68 1304.00,442.30 1304.50,443.14 1305.00,443.18 1305.50,442.36 1306.00,440.67 1306.50,438.12 1307.00,434.73 1307.50,430.51 1308.00,425.49 1308.50,419.70 1309.00,413.17 1309.50,405.93 1310.00,398.03 1310.50,389.51 1311.00,380.43 1311.50,370.82 1312.00,360.76 1312.50,350.28 1313.00,339.46 1313.50,328.36 1314.00,317.04 1314.50,305.55 1315.00,293.98 1315.50,282.38 1316.00,270.81 1316.50,259.36 1317.00,248.07 1317.50,237.02 1318.00,226.26 1318.50,215.87 1319.00,205.89 1319.50,196.39 1320.00,187.41 1320.50,179.01 1321.00,171.24 1321.50,164.14 1322.00,157.75 1322.50,152.11 1323.00,147.25 1323.50,143.20 1324.00,139.97 1324.50,137.59 1325.00,136.08 1325.50,135.43 1326.00,135.63 1326.50,136.59 1327.00,138.31 1327.50,140.79 1328.00,144.01 1328.50,147.96 1329.00,152.61 1329.50,157.94 1330.00,163.94 1330.50,170.56 1331.00,177.77 1331.50,185.55 1332.00,193.84 1332.50,202.62 1333.00,211.84 1333.50,221.45 1334.00,231.41 1334.50,241.66 1335.00,252.17 1335.50,262.86 1336.00,273.71 1336.50,284.64 1337.00,295.61 1337.50,306.57 1338.00,317.45 1338.50,328.22 1339.00,338.80 1339.50,349.16 1340.00,359.25 1340.50,369.00 1341.00,378.38 1341.50,387.34 1342.00,395.84 1342.50,403.82 1343.00,411.27 1343.50,418.13 1344.00,424.38 1344.50,429.98 1345.00,434.91 1345.50,439.14 1346.00,442.65 1346.50,445.43 1347.00,447.45 1347.50,448.72 1348.00,449.22 1348.50,448.90 1349.00,447.65 1349.50,445.47 1350.00,442.37 1350.50,438.40 1351.00,433.56 1351.50,427.86 1352.00,421.36 1352.50,414.07 1353.00,406.06 1353.50,397.36 1354.00,388.03 1354.50,378.11 1355.00,367.67 1355.50,356.78 1356.00,345.48 1356.50,333.86 1357.00,321.97 1357.50,309.90 1358.00,297.70 1358.50,285.44 1359.00,273.22 1359.50,261.08 1360.00,249.11 1360.50,237.37 1361.00,225.94 1361.50,214.87 1362.00,204.25 1362.50,194.12 1363.00,184.54 1363.50,175.58 1364.00,167.29 1364.50,159.71 1365.00,152.89 1365.50,146.86 1366.00,141.68 1366.50,137.35 1367.00,133.92 1367.50,131.39 1368.00,129.79 1368.50,129.12 1369.00,129.33 1369.50,130.28 1370.00,131.97 1370.50,134.39 1371.00,137.53 1371.50,141.38 1372.00,145.91 1372.50,151.10 1373.00,156.94 1373.50,163.39 1374.00,170.43 1374.50,178.02 1375.00,186.14 1375.50,194.73 1376.00,203.77 1376.50,213.21 1377.00,223.02 1377.50,233.13 1378.00,243.52 1378.50,254.13 1379.00,264.91 1379.50,275.82 1380.00,286.80 1380.50,297.80 1381.00,308.79 1381.50,319.69 1382.00,330.47 1382.50,341.08 1383.00,351.47 1383.50,361.59 1384.00,371.39 1384.50,380.83 1385.00,389.87 1385.50,398.47 1386.00,406.58 1386.50,414.17 1387.00,421.21 1387.50,427.67 1388.00,433.50 1388.50,438.70 1389.00,443.23 1389.50,447.07 1390.00,450.21 1390.50,452.63 1391.00,454.32 1391.50,455.27 1392.00,455.48 1392.50,454.83 1393.00,453.26 1393.50,450.78 1394.00,447.41 1394.50,443.17 1395.00,438.07 1395.50,432.15 1396.00,425.44 1396.50,417.98 1397.00,409.80 1397.50,400.96 1398.00,391.50 1398.50,381.48 1399.00,370.94 1399.50,359.96 1400.00,348.58 1400.50,336.88 1401.00,324.91 1401.50,312.74 1402.00,300.45 1402.50,288.09 1403.00,275.74 1403.50,263.47 1404.00,251.33 1404.50,239.41 1405.00,227.77 1405.50,216.46 1406.00,205.56 1406.50,195.13 1407.00,185.21 1407.50,175.87 1408.00,167.16 1408.50,159.12 1409.00,151.81 1409.50,145.25 1410.00,139.50 1410.50,134.57 1411.00,130.50 1411.50,127.30 1412.00,125.01 1412.50,123.62 1413.00,123.15 1413.50,123.56 1414.00,124.82 1414.50,126.92 1415.00,129.84 1415.50,133.58 1416.00,138.12 1416.50,143.43 1417.00,149.48 1417.50,156.25 1418.00,163.70 1418.50,171.79 1419.00,180.49 1419.50,189.74 1420.00,199.51 1420.50,209.74 1421.00,220.38 1421.50,231.37 1422.00,242.68 1422.50,254.23 1423.00,265.97 1423.50,277.84 1424.00,289.79 1424.50,301.74 1425.00,313.65 1425.50,325.45 1426.00,337.09 1426.50,348.50 1427.00,359.62 1427.50,370.41 1428.00,380.81 1428.50,390.76 1429.00,400.22 1429.50,409.13 1430.00,417.46 1430.50,425.17 1431.00,432.20 1431.50,438.53 1432.00,444.13 1432.50,448.97 1433.00,453.02 1433.50,456.26 1434.00,458.68 1434.50,460.27 1435.00,461.01 1435.50,460.90 1436.00,459.93 1436.50,458.10 1437.00,455.42 1437.50,451.91 1438.00,447.57 1438.50,442.45 1439.00,436.55 1439.50,429.91 1440.00,422.56 1440.50,414.54 1441.00,405.89 1441.50,396.65 1442.00,386.88 1442.50,376.61 1443.00,365.91 1443.50,354.82 1444.00,343.40 1444.50,331.71 1445.00,319.80 1445.50,307.74 1446.00,295.60 1446.50,283.42 1447.00,271.27 1447.50,259.21 1448.00,247.31 1448.50,235.62 1449.00,224.20 1449.50,213.11 1450.00,202.40 1450.50,192.13 1451.00,182.36 1451.50,173.12 1452.00,164.47 1452.50,156.45 1453.00,149.11 1453.50,142.47 1454.00,136.57 1454.50,131.44 1455.00,127.11 1455.50,123.59 1456.00,120.91 1456.50,119.08 1457.00,118.11 1457.50,118.01 1458.00,118.78 1458.50,120.42 1459.00,122.93 1459.50,126.29 1460.00,130.49 1460.50,135.50 1461.00,141.30 1461.50,147.86 1462.00,155.15 1462.50,163.13 1463.00,171.75 1463.50,180.99 1464.00,190.78 1464.50,201.08 1465.00,211.83 1465.50,222.99 1466.00,234.50 1466.50,246.29 1467.00,258.31 1467.50,270.50 1468.00,282.80 1468.50,295.14 1469.00,307.46 1469.50,319.70 1470.00,331.79 1470.50,343.69 1471.00,355.31 1471.50,366.62 1472.00,377.54 1472.50,388.03 1473.00,398.03 1473.50,407.49 1474.00,416.37 1474.50,424.61 1475.00,432.18 1475.50,439.03 1476.00,445.14 1476.50,450.47 1477.00,455.00 1477.50,458.70 1478.00,461.55 1478.50,463.54 1479.00,464.66 1479.50,464.90 1480.00,464.24 1480.50,462.65 1481.00,460.15 1481.50,456.76 1482.00,452.48 1482.50,447.35 1483.00,441.38 1483.50,434.61 1484.00,427.08 1484.50,418.83 1485.00,409.89 1485.50,400.33 1486.00,390.17 1486.50,379.49 1487.00,368.34 1487.50,356.77 1488.00,344.84 1488.50,332.63 1489.00,320.19 1489.50,307.59 1490.00,294.90 1490.50,282.18 1491.00,269.50 1491.50,256.92 1492.00,244.52 1492.50,232.36 1493.00,220.50 1493.50,209.01 1494.00,197.95 1494.50,187.37 1495.00,177.33 1495.50,167.88 1496.00,159.08 1496.50,150.97 1497.00,143.59 1497.50,136.98 1498.00,131.18 1498.50,126.21 1499.00,122.11 1499.50,118.89 1500.00,116.58 1500.50,115.17 1501.00,114.69 1501.50,115.12 1502.00,116.44 1502.50,118.64 1503.00,121.72 1503.50,125.65 1504.00,130.42 1504.50,136.00 1505.00,142.37 1505.50,149.50 1506.00,157.33 1506.50,165.85 1507.00,175.00 1507.50,184.74 1508.00,195.01 1508.50,205.77 1509.00,216.97 1509.50,228.54 1510.00,240.42 1510.50,252.56 1511.00,264.90 1511.50,277.37 1512.00,289.91 1512.50,302.46 1513.00,314.95 1513.50,327.32 1514.00,339.50 1514.50,351.45 1515.00,363.08 1515.50,374.36 1516.00,385.21 1516.50,395.58 1517.00,405.43 1517.50,414.70 1518.00,423.35 1518.50,431.33 1519.00,438.60 1519.50,445.12 1520.00,450.86 1520.50,455.80 1521.00,459.90 1521.50,463.15 1522.00,465.53 1522.50,467.02 1523.00,467.63 1523.50,467.32 1524.00,466.04 1524.50,463.81 1525.00,460.64 1525.50,456.53 1526.00,451.52 1526.50,445.62 1527.00,438.88 1527.50,431.33 1528.00,423.01 1528.50,413.96 1529.00,404.23 1529.50,393.87 1530.00,382.95 1530.50,371.51 1531.00,359.62 1531.50,347.35 1532.00,334.76" fill="none" stroke="#00cc00" stroke-width="4" stroke-dasharray="11.8 3 2.1 3 2.1 3" stroke-linejoin="round"/>
<rect x="125.0" y="59.5" width="610.0" height="463.0" fill="none" stroke="#383838" stroke-width="1"/>
<rect x="938.5" y="59.5" width="593.5" height="463.0" fill="none" stroke="#383838" stroke-width="1"/>
<path d="M247.00 522.5V510.5M369.00 522.5V510.5M491.00 522.5V510.5M613.00 522.5V510.5M125.0 445.40H137.0M125.0 368.10H137.0M125.0 290.80H137.0M125.0 213.50H137.0M125.0 136.20H137.0M1086.88 522.5V510.5M1235.25 522.5V510.5M1383.62 522.5V510.5M938.5 501.30H950.5M938.5 396.05H950.5M938.5 290.80H950.5M938.5 185.55H950.5M938.5 80.30H950.5" stroke="#383838" stroke-width="1" fill="none"/>
<g font-family="'Liberation Serif', 'Times New Roman', serif" fill="#000"><text transform="translate(112.6,67.6) scale(1,1.035)" text-anchor="end" font-size="33.4">6</text><text transform="translate(112.6,144.9) scale(1,1.035)" text-anchor="end" font-size="33.4">4</text><text transform="translate(112.6,222.2) scale(1,1.035)" text-anchor="end" font-size="33.4">2</text><text transform="translate(112.6,299.5) scale(1,1.035)" text-anchor="end" font-size="33.4">0</text><text transform="translate(112.6,376.8) scale(1,1.035)" text-anchor="end" font-size="33.4">−2</text><text transform="translate(112.6,454.1) scale(1,1.035)" text-anchor="end" font-size="33.4">−4</text><text transform="translate(112.6,531.4) scale(1,1.035)" text-anchor="end" font-size="33.4">−6</text><text transform="translate(125.0,558.9) scale(0.99,1.035)" text-anchor="middle" font-size="33.4">0.10</text><text transform="translate(247.0,558.9) scale(0.99,1.035)" text-anchor="middle" font-size="33.4">0.12</text><text transform="translate(369.0,558.9) scale(0.99,1.035)" text-anchor="middle" font-size="33.4">0.14</text><text transform="translate(491.0,558.9) scale(0.99,1.035)" text-anchor="middle" font-size="33.4">0.16</text><text transform="translate(613.0,558.9) scale(0.99,1.035)" text-anchor="middle" font-size="33.4">0.18</text><text transform="translate(735.0,558.9) scale(0.99,1.035)" text-anchor="middle" font-size="33.4">0.20</text><text transform="translate(925.2,89.0) scale(1,1.035)" text-anchor="end" font-size="33.4">2</text><text transform="translate(925.2,194.3) scale(1,1.035)" text-anchor="end" font-size="33.4">1</text><text transform="translate(925.2,299.5) scale(1,1.035)" text-anchor="end" font-size="33.4">0</text><text transform="translate(925.2,404.8) scale(1,1.035)" text-anchor="end" font-size="33.4">−1</text><text transform="translate(925.2,510.0) scale(1,1.035)" text-anchor="end" font-size="33.4">−2</text><text transform="translate(938.5,558.9) scale(0.99,1.035)" text-anchor="middle" font-size="33.4">0</text><text transform="translate(1086.9,558.9) scale(0.99,1.035)" text-anchor="middle" font-size="33.4">0.05</text><text transform="translate(1235.2,558.9) scale(0.99,1.035)" text-anchor="middle" font-size="33.4">0.10</text><text transform="translate(1383.6,558.9) scale(0.99,1.035)" text-anchor="middle" font-size="33.4">0.15</text><text transform="translate(1532.0,558.9) scale(0.99,1.035)" text-anchor="middle" font-size="33.4">0.20</text><text x="10.5" y="33.3" font-size="40.5">(<tspan font-style="italic" font-size="37.5" dx="1">a</tspan><tspan dx="0.3">)</tspan></text><text x="822.5" y="33.3" font-size="40.5">(<tspan font-style="italic">b</tspan>)</text><text x="387.9" y="609" font-size="38.5" font-style="italic">x</text><text x="415.3" y="608.9" font-size="40">(m)</text><text x="1192.9" y="609" font-size="38.5" font-style="italic">x</text><text x="1220.3" y="608.9" font-size="40">(m)</text><text transform="translate(48.60,361.70) rotate(-90)" font-size="40" font-style="italic">p</text><g transform="translate(24.55,337.35) rotate(-90)"><text transform="translate(-10.45,26.00) skewX(-16) scale(0.6,1)" font-size="48">′</text></g><text transform="translate(58.80,341.50) rotate(-90)" font-size="31" font-style="italic">w</text><text transform="translate(45.90,313.10) rotate(-90)" font-size="35" font-style="normal">×</text><text transform="translate(47.40,284.70) rotate(-90)" font-size="40.5" font-style="normal">10</text><text transform="translate(35.60,246.40) rotate(-90)" font-size="30.5" font-style="normal">−</text><text transform="translate(33.55,231.55) rotate(-90)" font-size="30.5" font-style="normal">5</text><text transform="translate(860.60,361.70) rotate(-90)" font-size="40" font-style="italic">p</text><g transform="translate(836.55,337.35) rotate(-90)"><text transform="translate(-10.45,26.00) skewX(-16) scale(0.6,1)" font-size="48">′</text></g><text transform="translate(870.80,341.50) rotate(-90)" font-size="31" font-style="italic">w</text><text transform="translate(857.90,313.10) rotate(-90)" font-size="35" font-style="normal">×</text><text transform="translate(859.40,284.70) rotate(-90)" font-size="40.5" font-style="normal">10</text><text transform="translate(847.60,246.40) rotate(-90)" font-size="30.5" font-style="normal">−</text><text transform="translate(845.70,230.95) rotate(-90)" font-size="30.5" font-style="normal">4</text><text x="295" y="96.8" font-size="33.4">Meshed cavity</text><text x="295" y="139.8" font-size="33.4">TDIBC</text><text transform="translate(1119.6,100.8) scale(1,1.035)" font-size="33.4">TDIBC</text><text x="1121.5" y="144.2" font-size="33.4" font-style="italic">v</text><text transform="translate(1129.55,150.20) skewX(-16) scale(0.6,1)" font-size="48">′</text><text transform="translate(1150.3,141.5) scale(1.16,0.75)" font-size="33.4">=</text><text x="1177" y="143.8" font-size="33.4" font-style="italic">A</text><text x="1206" y="143.8" font-size="33.4" font-style="italic">p</text><text transform="translate(1216.85,150.40) skewX(-16) scale(0.6,1)" font-size="48">′</text></g>
<circle cx="224.3" cy="85.5" r="4.5" fill="#00cc00"/>
<line x1="166.9" y1="128.4" x2="281.25" y2="128.4" stroke="#cc0000" stroke-width="5"/>
<line x1="980" y1="89.2" x2="1107.5" y2="89.2" stroke="#cc0000" stroke-width="4"/>
<line x1="980" y1="135.1" x2="1107.5" y2="135.1" stroke="#00cc00" stroke-width="4" stroke-dasharray="11.8 3 2.1 3 2.1 3"/>
</svg>
</body></html>
